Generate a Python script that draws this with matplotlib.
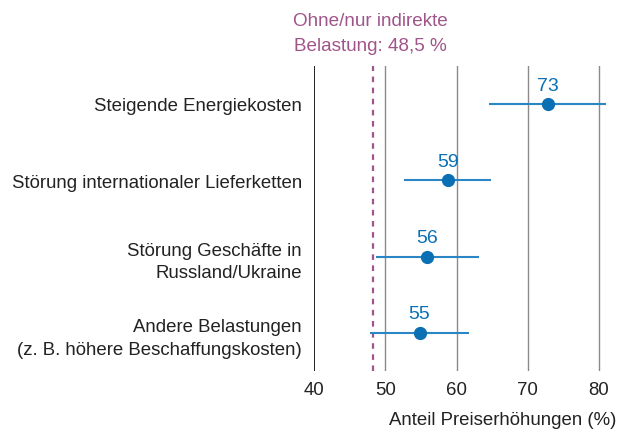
import matplotlib
matplotlib.use('Agg')
import matplotlib.pyplot as plt
import numpy as np

plt.rcParams['font.family'] = ['Liberation Sans', 'DejaVu Sans']

categories = ['Steigende Energiekosten',
              'Störung internationaler Lieferketten',
              'Störung Geschäfte in\nRussland/Ukraine',
              'Andere Belastungen\n(z. B. höhere Beschaffungskosten)']
values = [72.9, 58.8, 55.9, 54.8]
lower = [64.6, 52.6, 48.6, 47.8]
upper = [81.1, 64.8, 63.1, 61.7]
value_labels = ['73', '59', '56', '55']
ref_value = 48.5
ref_text = 'Ohne/nur indirekte\nBelastung: 48,5 %'
xticks = [40, 50, 60, 70, 80]

blue = '#0b6fb4'
blue_line = '#2a86c4'
purple = '#a0558a'
fs = 13.4

fig = plt.figure(figsize=(6.19, 4.31), dpi=100)
ax = fig.add_axes([0.508, 0.137, 0.482, 0.708])

ypos = np.arange(len(categories))[::-1]
vals = np.array(values)
err = [vals - np.array(lower), np.array(upper) - vals]

for x in xticks[1:]:
    ax.axvline(x, color='#8a8a8a', lw=1.0, zorder=1)
ax.axvline(40, color='#222222', lw=1.4, zorder=2)
ax.axvline(ref_value - 0.2, color=purple, lw=1.6, ls=(0, (2.5, 2.5)), zorder=2)

ax.errorbar(vals, ypos, xerr=err, fmt='o', color=blue, ms=8.5,
            ecolor=blue_line, elinewidth=1.5, capsize=0, zorder=3)
for v, y, t in zip(vals, ypos, value_labels):
    ax.annotate(t, (v, y), xytext=(0, 7.5), textcoords='offset points',
                ha='center', va='bottom', color=blue, fontsize=14)

ax.set_xlim(40, 82)
ax.set_ylim(-0.5, 3.5)
ax.set_xticks(xticks)
ax.set_xticklabels([str(x) for x in xticks], fontsize=fs)
ax.set_yticks(ypos)
ax.set_yticklabels(categories, fontsize=fs, linespacing=1.45)
ax.tick_params(axis='both', length=0, colors='#222222')
ax.tick_params(axis='y', pad=9)
ax.tick_params(axis='x', pad=7)
for s in ax.spines.values():
    s.set_visible(False)

ax.text(ref_value - 0.6, 1.04, ref_text, transform=ax.get_xaxis_transform(),
        ha='center', va='bottom', color=purple, fontsize=13.6, linespacing=1.55)

fig.text(0.995, 0.005, 'Anteil Preiserhöhungen (%)', ha='right', va='bottom',
         fontsize=fs, color='#222222')

fig.savefig('out.png', dpi=100)
